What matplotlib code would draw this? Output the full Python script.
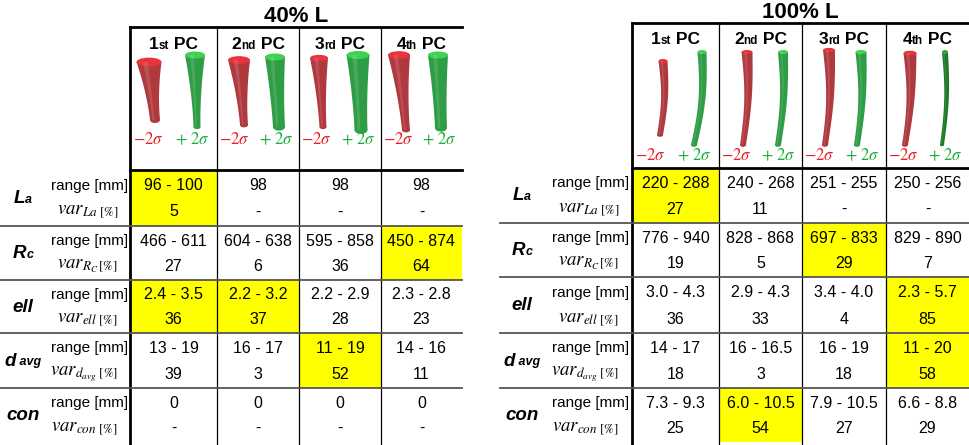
import matplotlib
matplotlib.use('Agg')
import numpy as np
import matplotlib.pyplot as plt
from matplotlib.patches import Rectangle, Polygon, Ellipse

plt.rcParams['font.family'] = ['Liberation Sans', 'DejaVu Sans']
plt.rcParams['mathtext.fontset'] = 'stix'

# ---- table content ----
titles = ['40% L', '100% L']
pc_num = ['1', '2', '3', '4']
pc_suffix = ['st', 'nd', 'rd', 'th']
param_main = ['L', 'R', 'ell', 'd', 'con']
param_sub = ['a', 'c', '', ' avg', '']
var_labels = [r'$\mathit{var}_{La\ \mathrm{[\%]}}$',
              r'$\mathit{var}_{R_C\,\mathrm{[\%]}}$',
              r'$\mathit{var}_{ell\ \mathrm{[\%]}}$',
              r'$\mathit{var}_{d_{avg}\ \mathrm{[\%]}}$',
              r'$\mathit{var}_{con\ \mathrm{[\%]}}$']

range_40 = [['96 - 100', '98', '98', '98'],
            ['466 - 611', '604 - 638', '595 - 858', '450 - 874'],
            ['2.4 - 3.5', '2.2 - 3.2', '2.2 - 2.9', '2.3 - 2.8'],
            ['13 - 19', '16 - 17', '11 - 19', '14 - 16'],
            ['0', '0', '0', '0']]
var_40 = [['5', '-', '-', '-'],
          ['27', '6', '36', '64'],
          ['36', '37', '28', '23'],
          ['39', '3', '52', '11'],
          ['-', '-', '-', '-']]
best_40 = [[0], [3], [0, 1], [2], []]

range_100 = [['220 - 288', '240 - 268', '251 - 255', '250 - 256'],
             ['776 - 940', '828 - 868', '697 - 833', '829 - 890'],
             ['3.0 - 4.3', '2.9 - 4.3', '3.4 - 4.0', '2.3 - 5.7'],
             ['14 - 17', '16 - 16.5', '16 - 19', '11 - 20'],
             ['7.3 - 9.3', '6.0 - 10.5', '7.9 - 10.5', '6.6 - 8.8']]
var_100 = [['27', '11', '-', '-'],
           ['19', '5', '29', '7'],
           ['36', '33', '4', '85'],
           ['18', '3', '18', '58'],
           ['25', '54', '27', '29']]
best_100 = [[0], [2], [3], [3], [1]]

# ---- layout (pixel coordinates) ----
layouts = [
    dict(title_xy=(296, 17), top=27, head_y=43, sig_y=139, col_x=[130, 217, 299, 381, 462],
         row_y=[170, 226, 280, 333, 388, 442], sep_x0=0, label_x=23, range_x=128, var_x=118),
    dict(title_xy=(800, 12), top=23, head_y=38, sig_y=155, col_x=[632, 719, 802, 886, 969],
         row_y=[168, 223, 277, 333, 388, 442], sep_x0=500, label_x=522, range_x=629, var_x=619),
]

# bone sketches: (x_top, x_bottom, y_top, y_bottom, w_top, w_bottom, bow)
bones = [
    [[(149, 155, 62, 120, 25, 10, 0), (195, 197, 55, 127, 20, 7, 0)],
     [(239, 244, 60, 125, 22, 8, 0), (275, 279, 57, 127, 20, 12, 0)],
     [(319, 323, 58, 127, 18, 7, 0), (358, 361, 55, 130, 23, 13, 0)],
     [(399, 406, 55, 130, 22, 8, 0), (438, 441, 55, 128, 20, 12, 0)]],
    [[(663, 660, 61, 135, 9, 6, 3), (702, 694, 52, 145, 9, 6, 4)],
     [(747, 743, 52, 145, 11, 6, 3), (783, 778, 52, 145, 10, 6, 3)],
     [(829, 825, 50, 145, 12, 6, 3), (861, 857, 52, 145, 11, 6, 3)],
     [(910, 905, 53, 145, 13, 6, 3), (945, 942, 52, 145, 6, 4, 3)]],
]

RED_BODY, RED_CAP = '#b0393e', '#e6353c'
GREEN_BODY, GREEN_CAP = '#2f9d45', '#3ed255'
DKGREEN_BODY, DKGREEN_CAP = '#1e7a28', '#2aa83a'
SIG_RED, SIG_GREEN = '#ec1c24', '#1bae3a'
YELLOW = '#ffff00'

fig = plt.figure(figsize=(9.69, 4.45), dpi=100)
ax = fig.add_axes([0, 0, 1, 1])
ax.set_xlim(0, 969)
ax.set_ylim(445, 0)
ax.axis('off')
renderer = fig.canvas.get_renderer()


def put_runs(xc, y, runs, **kw):
    # place text pieces side by side, centred on xc, sharing one baseline
    objs = []
    for txt, size, extra in runs:
        t = ax.text(0, y, txt, fontsize=size, va='baseline', ha='left', **extra, **kw)
        objs.append(t)
    widths = [t.get_window_extent(renderer).width for t in objs]
    x = xc - sum(widths) / 2
    for t, w in zip(objs, widths):
        t.set_x(x)
        x += w


def draw_bone(spec, body, cap):
    xt, xb, yt, yb, wt, wb, bow = spec
    s = np.linspace(0, 1, 40)
    xc = xt + (xb - xt) * s + bow * np.sin(np.pi * s)
    w = wb + (wt - wb) * (1 - s) ** 1.8
    y = yt + (yb - yt) * s
    pts = np.vstack([np.column_stack([xc - w / 2, y]),
                     np.column_stack([xc + w / 2, y])[::-1]])
    ax.add_patch(Polygon(pts, closed=True, fc=body, ec='none', zorder=3))
    ax.add_patch(Ellipse((xb, yb), wb, wb * 0.6, fc=body, ec='none', zorder=3))
    ax.add_patch(Ellipse((xt, yt), wt, max(wt * 0.35, 4), fc=cap, ec='none', zorder=4))
    # soft highlight strip
    hl = np.vstack([np.column_stack([xc - w * 0.25, y]),
                    np.column_stack([xc - w * 0.05, y])[::-1]])
    ax.add_patch(Polygon(hl, closed=True, fc='white', alpha=0.12, ec='none', zorder=4))


tables = [(range_40, var_40, best_40), (range_100, var_100, best_100)]

for k, (lay, (rng, var, best)) in enumerate(zip(layouts, tables)):
    cx = lay['col_x']
    ry = lay['row_y']
    # title
    ax.text(*lay['title_xy'], titles[k], fontsize=16, fontweight='bold',
            ha='center', va='center')

    # yellow highlighted cells
    for r, cols in enumerate(best):
        for c in cols:
            ax.add_patch(Rectangle((cx[c], ry[r]), cx[c + 1] - cx[c], ry[r + 1] - ry[r],
                                   fc=YELLOW, ec='none', zorder=1))

    # grid lines
    ax.plot([cx[0], cx[-1]], [lay['top'], lay['top']], color='black', lw=2, zorder=5)
    ax.plot([cx[0], cx[-1]], [ry[0], ry[0]], color='black', lw=2, zorder=5)
    ax.plot([cx[0], cx[0]], [lay['top'], ry[-1] + 3], color='black', lw=2, zorder=5)
    for x in cx[1:-1]:
        ax.plot([x, x], [lay['top'], ry[-1] + 3], color='black', lw=0.9, zorder=5)
    for y in ry[1:-1]:
        ax.plot([lay['sep_x0'], cx[-1]], [y, y], color='#555555', lw=1.3, zorder=5)

    # column headers, bones and sigma labels
    for c in range(4):
        xm = (cx[c] + cx[c + 1]) / 2
        wcol = cx[c + 1] - cx[c]
        put_runs(xm, lay['head_y'] + 6,
                 [(pc_num[c], 12.5, {}), (pc_suffix[c], 8.5, {}), (' PC', 12.5, {})],
                 fontweight='bold')
        red_spec, green_spec = bones[k][c]
        draw_bone(red_spec, RED_BODY, RED_CAP)
        if k == 1 and c == 3:
            draw_bone(green_spec, DKGREEN_BODY, DKGREEN_CAP)
        else:
            draw_bone(green_spec, GREEN_BODY, GREEN_CAP)
        ax.text(cx[c] + 0.21 * wcol, lay['sig_y'], r'$-2\sigma$', color=SIG_RED,
                fontsize=12, ha='center', va='center')
        ax.text(cx[c] + 0.72 * wcol, lay['sig_y'], r'$+\ 2\sigma$', color=SIG_GREEN,
                fontsize=12, ha='center', va='center')

    # body rows
    for r in range(5):
        top, bot = ry[r], ry[r + 1]
        h = bot - top
        y_rng = top + 0.28 * h
        y_var = top + 0.75 * h
        put_runs(lay['label_x'], top + 0.5 * h + 5,
                 [(param_main[r], 13.5, {}), (param_sub[r], 9, {})],
                 fontweight='bold', fontstyle='italic')
        ax.text(lay['range_x'], y_rng, 'range [mm]', fontsize=11, ha='right', va='center')
        ax.text(lay['var_x'], y_var, var_labels[r], fontsize=13.5, ha='right', va='center')
        for c in range(4):
            xm = (cx[c] + cx[c + 1]) / 2
            ax.text(xm, y_rng, rng[r][c], fontsize=11.5, ha='center', va='center', zorder=6)
            ax.text(xm, y_var, var[r][c], fontsize=11.5, ha='center', va='center', zorder=6)

fig.savefig('out.png', dpi=100)
